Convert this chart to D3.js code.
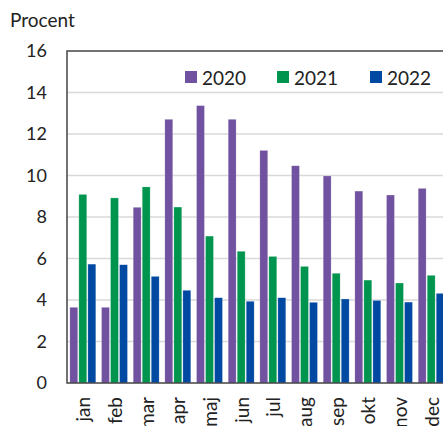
<!DOCTYPE html>
<html lang="sv">
<head>
<meta charset="UTF-8">
<title>Procent</title>
<script src="https://d3js.org/d3.v7.min.js"></script>
<style>
  body { margin: 0; background: #fff; }
  text { font-family: Lato, "Liberation Sans", Arial, sans-serif; fill: #222; }
</style>
</head>
<body>
<script>
    const months = ["jan", "feb", "mar", "apr", "maj", "jun", "jul", "aug", "sep", "okt", "nov", "dec"];
    const years = ["2020", "2021", "2022"];
    const v2020 = [3.65, 3.65, 8.47, 12.71, 13.37, 12.71, 11.21, 10.47, 9.98, 9.25, 9.06, 9.38];
    const v2021 = [9.09, 8.92, 9.45, 8.48, 7.08, 6.35, 6.10, 5.62, 5.29, 4.96, 4.82, 5.19];
    const v2022 = [5.73, 5.70, 5.14, 4.47, 4.11, 3.94, 4.11, 3.89, 4.05, 3.98, 3.90, 4.32];
    const yTicks = [0, 2, 4, 6, 8, 10, 12, 14, 16];
    const colors = ["#7052a0", "#00954f", "#0049a2"];

    const W = 443, H = 426;
    const margin = { top: 51, left: 67 };
    const w = 380, h = 332;   // plot runs past the right edge, as in the original

    const series = [v2020, v2021, v2022];
    const rows = months.map((m, i) => ({ m, vals: series.map(s => s[i]) }));

    const svg = d3.select("body").append("svg")
        .attr("width", W).attr("height", H);
    const g = svg.append("g")
        .attr("transform", "translate(" + margin.left + "," + margin.top + ")");

    const x = d3.scaleBand().domain(months).range([0, w])
        .paddingInner(0.18).paddingOuter(0.09);
    const xs = d3.scaleBand().domain(d3.range(3)).range([0, x.bandwidth()])
        .paddingInner(0.12).paddingOuter(0);
    const y = d3.scaleLinear().domain([0, 16]).range([h, 0]);

    // gridlines
    g.append("g").selectAll("line")
        .data(yTicks.filter(t => t > 0 && t < 16))
        .join("line")
        .attr("x1", 0).attr("x2", w)
        .attr("y1", d => y(d)).attr("y2", d => y(d))
        .attr("stroke", "#d9d9d9").attr("stroke-width", 1.5);

    // y axis labels
    const yAxis = d3.axisLeft(y).tickValues(yTicks).tickSize(0).tickPadding(20);
    g.append("g").call(yAxis)
        .call(s => s.select(".domain").remove())
        .selectAll("text")
        .style("font-size", "18px").attr("fill", "#222");

    // bars
    g.append("g").selectAll("g")
        .data(rows)
        .join("g")
        .attr("transform", d => "translate(" + x(d.m) + ",0)")
        .selectAll("rect")
        .data(d => d.vals)
        .join("rect")
        .attr("x", (d, i) => xs(i))
        .attr("width", xs.bandwidth())
        .attr("y", d => y(d))
        .attr("height", d => h - y(d))
        .attr("fill", (d, i) => colors[i])
        .attr("stroke", "#fff").attr("stroke-opacity", 0.5).attr("stroke-width", 0.5);

    // frame
    g.append("path")
        .attr("d", "M" + w + ",0H0V" + h + "H" + w)
        .attr("fill", "none").attr("stroke", "#444").attr("stroke-width", 1.5);

    // x axis labels
    const xAxis = d3.axisBottom(x).tickSize(0).tickPadding(0);
    g.append("g").attr("transform", "translate(0," + h + ")")
        .call(xAxis)
        .call(s => s.select(".domain").remove())
        .selectAll("text")
        .style("font-size", "19px").attr("fill", "#222")
        .attr("text-anchor", "end")
        .attr("transform", "rotate(-90)")
        .attr("x", -14).attr("y", 1).attr("dy", "0.35em");

    // y title
    svg.append("text").attr("x", 10).attr("y", 27)
        .style("font-size", "19px").text("Procent");

    // legend
    const legX = [185, 277, 370];
    const leg = svg.append("g").selectAll("g")
        .data(years)
        .join("g")
        .attr("transform", (d, i) => "translate(" + legX[i] + ",71)");
    leg.append("rect").attr("width", 12).attr("height", 12)
        .attr("fill", (d, i) => colors[i]);
    leg.append("text").attr("x", 17).attr("y", 13.5)
        .style("font-size", "19px").text(d => d);
</script>
</body>
</html>
